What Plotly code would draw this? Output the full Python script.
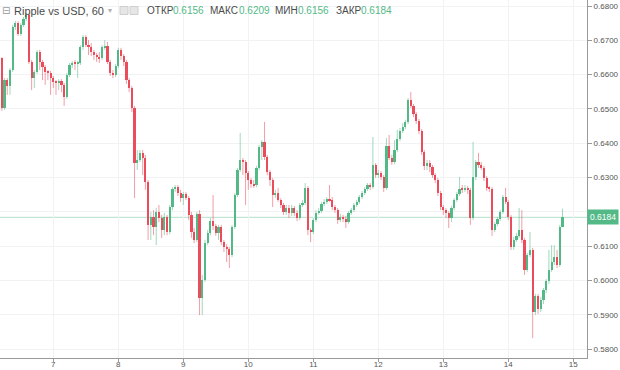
import plotly.graph_objects as go

# ---------------- data (hourly candles, first candle = day 6, 04:00) ----------------
first_day = 6
first_hour = 4

open_ = [
    .6599, .6648, .6503, .6584, .6567, .6613, .6739, .6750, .6718, .6745, .6762, .6774, .6637, .6590, .6608, .6666, .6637, .6622, .6608, .6605,
    .6590, .6579, .6576, .6581, .6570, .6535, .6599, .6628, .6634, .6631, .6634, .6680, .6710, .6686, .6680, .6666, .6657, .6651, .6648, .6680, .6683, .6637, .6605, .6599,
    .6625, .6672, .6654, .6637, .6584, .6561, .6503, .6342, .6351, .6372, .6357, .6287, .6162, .6185, .6156, .6200, .6182, .6147, .6185, .6141, .6214, .6267, .6272, .6255,
    .6240, .6252, .6240, .6191, .6141, .6118, .6194, .5949, .6001, .6109, .6138, .6173, .6159, .6138, .6156, .6112, .6097, .6092, .6074, .6156, .6249, .6322, .6351, .6345,
    .6313, .6293, .6281, .6278, .6328, .6389, .6404, .6360, .6316, .6293, .6249, .6255, .6234, .6220, .6200, .6211, .6197, .6211, .6197, .6182, .6220, .6226, .6270, .6147,
    .6141, .6176, .6197, .6202, .6223, .6229, .6237, .6234, .6214, .6205, .6176, .6185, .6179, .6170, .6197, .6205, .6220, .6229, .6243, .6255, .6267, .6278, .6272, .6337,
    .6307, .6313, .6302, .6270, .6392, .6357, .6345, .6380, .6412, .6436, .6447, .6462, .6526, .6509, .6485, .6465, .6436, .6374, .6334, .6342, .6331, .6307, .6293, .6255,
    .6214, .6205, .6197, .6182, .6211, .6234, .6252, .6267, .6264, .6270, .6264, .6182, .6302, .6345, .6337, .6328, .6299, .6270, .6267, .6147, .6165, .6179, .6200, .6243,
    .6229, .6185, .6097, .6118, .6130, .6147, .6118, .6030, .6074, .6089, .5908, .5955, .5917, .5943, .5972, .5998, .6030, .6054, .6068, .6045, .6156,
]
high = [
    .6657, .6651, .6590, .6590, .6619, .6745, .6756, .6756, .6750, .6768, .6780, .6780, .6643, .6613, .6672, .6672, .6643, .6628, .6613, .6611,
    .6596, .6584, .6587, .6587, .6576, .6605, .6634, .6640, .6643, .6640, .6686, .6715, .6715, .6701, .6692, .6672, .6663, .6666, .6686, .6701, .6695, .6643, .6613, .6631,
    .6678, .6678, .6660, .6643, .6590, .6567, .6509, .6380, .6380, .6380, .6366, .6293, .6200, .6205, .6211, .6220, .6191, .6197, .6191, .6220, .6272, .6278, .6278, .6264,
    .6258, .6258, .6246, .6200, .6153, .6200, .6205, .6016, .6118, .6147, .6182, .6249, .6165, .6162, .6162, .6118, .6106, .6097, .6162, .6255, .6328, .6430, .6357, .6351,
    .6319, .6299, .6293, .6334, .6395, .6409, .6462, .6366, .6322, .6299, .6264, .6270, .6240, .6226, .6220, .6220, .6220, .6217, .6205, .6226, .6234, .6284, .6275, .6153,
    .6182, .6205, .6211, .6229, .6237, .6243, .6278, .6243, .6220, .6211, .6194, .6191, .6188, .6202, .6211, .6226, .6234, .6249, .6261, .6272, .6284, .6284, .6418, .6342,
    .6322, .6319, .6307, .6415, .6424, .6366, .6409, .6439, .6444, .6459, .6468, .6532, .6549, .6514, .6491, .6471, .6441, .6380, .6351, .6351, .6337, .6313, .6299, .6261,
    .6220, .6211, .6202, .6217, .6240, .6258, .6302, .6278, .6278, .6275, .6270, .6404, .6351, .6372, .6345, .6334, .6304, .6275, .6272, .6170, .6185, .6205, .6249, .6270,
    .6234, .6191, .6127, .6138, .6211, .6205, .6124, .6080, .6141, .6095, .5961, .5961, .5952, .5978, .6004, .6089, .6103, .6103, .6089, .6162, .6209,
]
low = [
    .6590, .6494, .6497, .6541, .6541, .6608, .6730, .6713, .6713, .6739, .6756, .6631, .6555, .6561, .6602, .6613, .6584, .6570, .6584, .6541,
    .6561, .6541, .6555, .6549, .6509, .6529, .6593, .6619, .6613, .6590, .6628, .6672, .6680, .6657, .6654, .6643, .6637, .6634, .6643, .6672, .6631, .6596, .6590, .6593,
    .6619, .6643, .6625, .6573, .6549, .6491, .6240, .6322, .6345, .6307, .6264, .6118, .6118, .6132, .6103, .6170, .6124, .6132, .6132, .6135, .6205, .6258, .6246, .6229,
    .6220, .6234, .6176, .6124, .6109, .6112, .5899, .5899, .5996, .6103, .6132, .6147, .6130, .6118, .6103, .6083, .6054, .6036, .6068, .6150, .6243, .6316, .6307, .6220,
    .6264, .6270, .6270, .6272, .6322, .6351, .6351, .6307, .6275, .6214, .6240, .6229, .6211, .6191, .6191, .6182, .6188, .6188, .6173, .6176, .6214, .6220, .6132, .6112,
    .6135, .6170, .6191, .6197, .6217, .6223, .6229, .6205, .6197, .6165, .6170, .6170, .6153, .6165, .6191, .6200, .6214, .6223, .6237, .6249, .6261, .6264, .6267, .6299,
    .6299, .6293, .6258, .6264, .6351, .6337, .6339, .6374, .6406, .6430, .6441, .6456, .6503, .6476, .6456, .6427, .6366, .6322, .6322, .6316, .6299, .6284, .6246, .6205,
    .6191, .6182, .6153, .6170, .6205, .6229, .6246, .6255, .6258, .6252, .6162, .6176, .6293, .6328, .6322, .6290, .6261, .6258, .6130, .6141, .6159, .6173, .6194, .6223,
    .6176, .6089, .6089, .6112, .6124, .6109, .6016, .6025, .6068, .5832, .5899, .5902, .5908, .5931, .5963, .5990, .6025, .6045, .6036, .6039, .6156,
]
close = [
    .6648, .6503, .6584, .6567, .6613, .6739, .6750, .6718, .6745, .6762, .6774, .6637, .6590, .6608, .6666, .6637, .6622, .6608, .6605, .6590,
    .6579, .6576, .6581, .6570, .6535, .6599, .6628, .6634, .6631, .6634, .6680, .6710, .6686, .6680, .6666, .6657, .6651, .6648, .6680, .6683, .6637, .6605, .6599, .6625,
    .6672, .6654, .6637, .6584, .6561, .6503, .6342, .6351, .6372, .6357, .6287, .6162, .6185, .6156, .6200, .6182, .6147, .6185, .6141, .6214, .6267, .6272, .6255, .6240,
    .6252, .6240, .6191, .6141, .6118, .6194, .5949, .6001, .6109, .6138, .6173, .6159, .6138, .6156, .6112, .6097, .6092, .6074, .6156, .6249, .6322, .6351, .6345, .6313,
    .6293, .6281, .6278, .6328, .6389, .6404, .6360, .6316, .6293, .6249, .6255, .6234, .6220, .6200, .6211, .6197, .6211, .6197, .6182, .6220, .6226, .6270, .6147, .6141,
    .6176, .6197, .6202, .6223, .6229, .6237, .6234, .6214, .6205, .6176, .6185, .6179, .6170, .6197, .6205, .6220, .6229, .6243, .6255, .6267, .6278, .6272, .6337, .6307,
    .6313, .6302, .6270, .6392, .6357, .6345, .6380, .6412, .6436, .6447, .6462, .6526, .6509, .6485, .6465, .6436, .6374, .6334, .6342, .6331, .6307, .6293, .6255, .6214,
    .6205, .6197, .6182, .6211, .6234, .6252, .6267, .6264, .6270, .6264, .6182, .6302, .6345, .6337, .6328, .6299, .6270, .6267, .6147, .6165, .6179, .6200, .6243, .6229,
    .6185, .6097, .6118, .6130, .6147, .6118, .6030, .6074, .6089, .5908, .5955, .5917, .5943, .5972, .5998, .6030, .6054, .6068, .6045, .6156, .6184,
]

day_ticks = [7, 8, 9, 10, 11, 12, 13, 14, 15]
price_ticks = [0.58, 0.59, 0.60, 0.61, 0.62, 0.63, 0.64, 0.65, 0.66, 0.67, 0.68]
last_price = 0.6184
title_text = "Ripple vs USD, 60"
ohlc_labels = ["ОТКР", "МАКС", "МИН", "ЗАКР"]
ohlc_values = ["0.6156", "0.6209", "0.6156", "0.6184"]

# ---------------- styling ----------------
UP = "#53b987"
DOWN = "#eb4d5c"
UP_WICK = "rgba(83,185,135,0.55)"
DOWN_WICK = "rgba(235,77,92,0.55)"
FONT = "Liberation Sans, Arial, sans-serif"
PLOT_W = 587.0   # px of plot area
PLOT_H = 358.0

t = [first_day + (first_hour + i) / 24 for i in range(len(close))]
is_up = [c >= o for o, c in zip(open_, close)]

fig = go.Figure()

# wicks
for flag, col in ((True, UP_WICK), (False, DOWN_WICK)):
    wx, wy = [], []
    for ti, h, l, u in zip(t, high, low, is_up):
        if u == flag:
            wx += [ti, ti, None]
            wy += [l, h, None]
    fig.add_trace(go.Scatter(x=wx, y=wy, mode="lines", line=dict(color=col, width=1),
                             hoverinfo="skip", showlegend=False))

# bodies
base = [min(o, c) for o, c in zip(open_, close)]
height = [max(abs(c - o), 0.00022) for o, c in zip(open_, close)]
fig.add_trace(go.Bar(x=t, y=height, base=base, width=0.8 / 24,
                     marker=dict(color=[UP if u else DOWN for u in is_up], line=dict(width=0)),
                     hoverinfo="skip", showlegend=False))

# last price line
fig.add_shape(type="line", xref="paper", x0=0, x1=1, yref="y", y0=last_price, y1=last_price,
              line=dict(color="rgba(83,185,135,0.45)", width=1), layer="between")

annotations = []
# last price label on the axis
annotations.append(dict(x=1, xref="paper", xanchor="left", y=last_price, yref="y", yanchor="middle",
                        text=f"{last_price:.4f}", showarrow=False, bgcolor=UP, borderpad=2,
                        font=dict(family=FONT, size=8.5, color="white")))

def px_x(p):
    return p / PLOT_W

yc = 1 - 10.5 / PLOT_H
annotations.append(dict(x=px_x(1), y=yc, xref="paper", yref="paper", xanchor="left", yanchor="middle",
                        text="⊟", showarrow=False, borderpad=0,
                        font=dict(family="DejaVu Sans", size=10, color="#9a9a9a")))
annotations.append(dict(x=px_x(13), y=yc, xref="paper", yref="paper", xanchor="left", yanchor="middle",
                        text=title_text, showarrow=False, borderpad=0,
                        font=dict(family=FONT, size=11, color="#4a4a4a")))
annotations.append(dict(x=px_x(107), y=yc, xref="paper", yref="paper", xanchor="left", yanchor="middle",
                        text="▾", showarrow=False, borderpad=0,
                        font=dict(family="DejaVu Sans", size=8, color="#b0b0b0")))
label_px = [146, 209, 274, 335]
value_px = [172, 238, 297, 360]
for lab, val, lx, vx in zip(ohlc_labels, ohlc_values, label_px, value_px):
    annotations.append(dict(x=px_x(lx), y=yc, xref="paper", yref="paper", xanchor="left", yanchor="middle",
                            text=lab, showarrow=False, borderpad=0,
                            font=dict(family=FONT, size=10, color="#4a4a4a")))
    annotations.append(dict(x=px_x(vx), y=yc, xref="paper", yref="paper", xanchor="left", yanchor="middle",
                            text=val, showarrow=False, borderpad=0,
                            font=dict(family=FONT, size=10, color=UP)))

# two small toolbar squares in the header
for x0 in (120, 130):
    fig.add_shape(type="rect", xref="paper", yref="paper",
                  x0=px_x(x0), x1=px_x(x0 + 8), y0=1 - 14.5 / PLOT_H, y1=1 - 6.5 / PLOT_H,
                  line=dict(color="#cfcfcf", width=1), fillcolor="#e6e6e6")

fig.update_layout(
    width=620, height=370,
    margin=dict(l=0, r=33, t=0, b=12),
    plot_bgcolor="white", paper_bgcolor="white",
    showlegend=False, bargap=0,
    annotations=annotations,
    font=dict(family=FONT, size=8, color="#555555"),
    xaxis=dict(range=[6.18, 6.18 + PLOT_W / 65.0], tickvals=day_ticks, ticktext=[str(d) for d in day_ticks],
               showgrid=True, gridcolor="#f0f2f4", gridwidth=1, zeroline=False,
               showline=True, linecolor="#9a9a9a", linewidth=1,
               ticks="outside", ticklen=3, tickcolor="#9a9a9a", ticklabelstandoff=-5,
               tickfont=dict(family=FONT, size=8, color="#555555"), automargin=False, fixedrange=True),
    yaxis=dict(range=[0.68175 - PLOT_H * 0.0002915, 0.68175], side="right",
               tickvals=price_ticks, ticktext=[f"{p:.4f}" for p in price_ticks],
               showgrid=True, gridcolor="#f0f2f4", gridwidth=1, zeroline=False,
               showline=True, linecolor="#9a9a9a", linewidth=1,
               ticks="outside", ticklen=4, tickcolor="#9a9a9a",
               tickfont=dict(family=FONT, size=8, color="#555555"), automargin=False, fixedrange=True),
)

fig.write_html("out.html", config={"displayModeBar": False},
               post_script="document.body.style.margin='0';document.body.style.padding='0';")
